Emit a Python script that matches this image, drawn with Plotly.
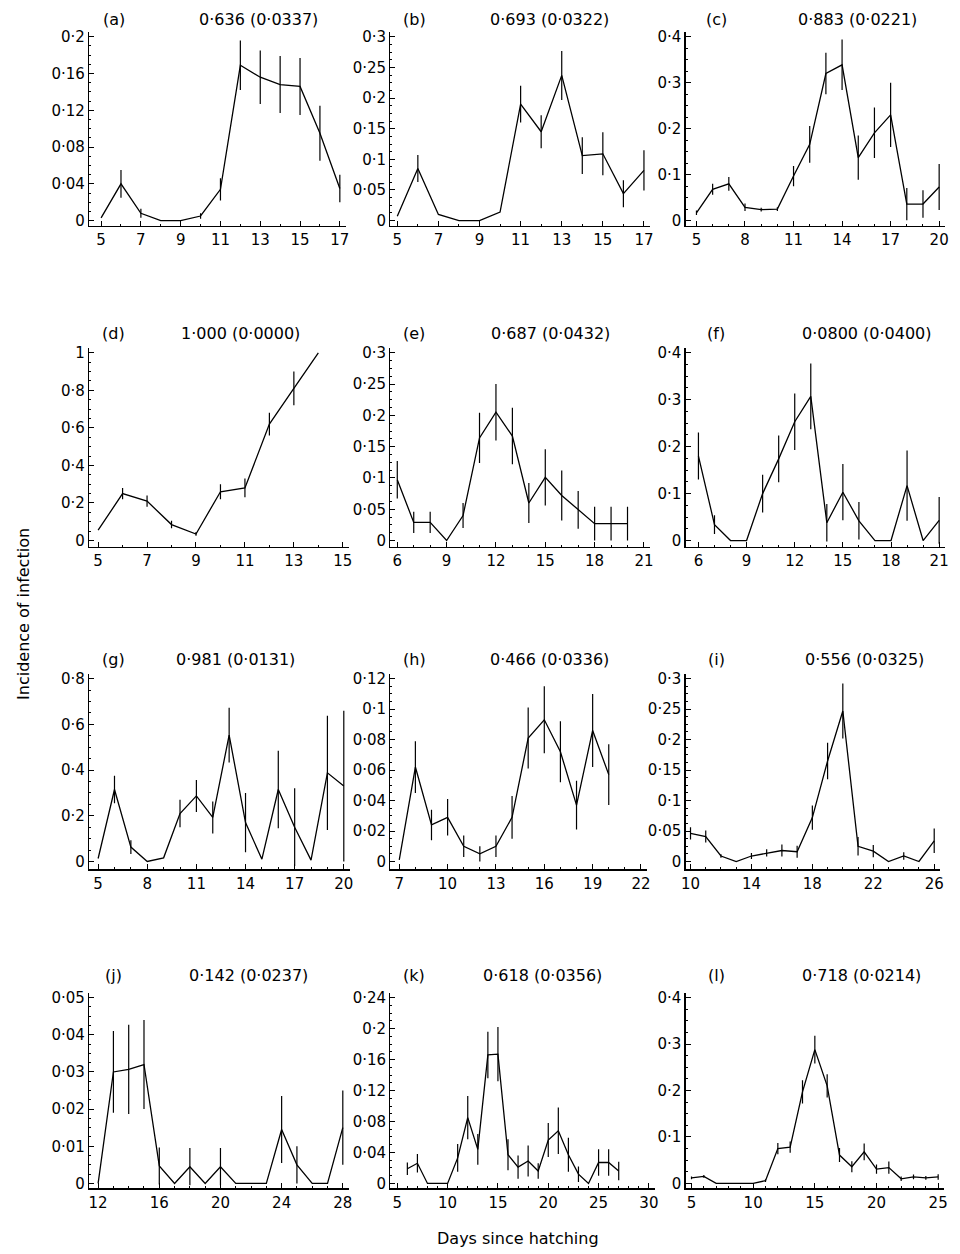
import plotly.graph_objects as go

# ---------------- data ----------------
days_a = [5, 6, 7, 8, 9, 10, 11, 12, 13, 14, 15, 16, 17]
inc_a = [0.003, 0.040, 0.008, 0.0, 0.0, 0.005, 0.034, 0.169, 0.156, 0.148, 0.146, 0.095, 0.035]
err_a = [0.0, 0.015, 0.005, 0.0, 0.0, 0.003, 0.012, 0.027, 0.029, 0.031, 0.031, 0.030, 0.015]

days_b = [5, 6, 7, 8, 9, 10, 11, 12, 13, 14, 15, 16, 17]
inc_b = [0.007, 0.085, 0.010, 0.0, 0.0, 0.014, 0.190, 0.145, 0.237, 0.106, 0.109, 0.044, 0.082]
err_b = [0.0, 0.022, 0.0, 0.0, 0.0, 0.0, 0.030, 0.027, 0.040, 0.030, 0.035, 0.022, 0.033]

days_c = [5, 6, 7, 8, 9, 10, 11, 12, 13, 14, 15, 16, 17, 18, 19, 20]
inc_c = [0.017, 0.068, 0.080, 0.029, 0.024, 0.025, 0.097, 0.166, 0.320, 0.339, 0.137, 0.191, 0.230, 0.036, 0.036, 0.073]
err_c = [0.005, 0.012, 0.015, 0.008, 0.004, 0.004, 0.022, 0.040, 0.045, 0.055, 0.048, 0.055, 0.070, 0.035, 0.030, 0.050]

days_d = [5, 6, 7, 8, 9, 10, 11, 12, 13, 14]
inc_d = [0.055, 0.25, 0.21, 0.085, 0.035, 0.26, 0.28, 0.62, 0.81, 1.0]
err_d = [0.0, 0.03, 0.03, 0.02, 0.01, 0.04, 0.05, 0.06, 0.09, 0.0]

days_e = [6, 7, 8, 9, 10, 11, 12, 13, 14, 15, 16, 17, 18, 19, 20]
inc_e = [0.097, 0.029, 0.029, 0.0, 0.040, 0.164, 0.205, 0.167, 0.060, 0.101, 0.072, 0.049, 0.027, 0.027, 0.027]
err_e = [0.030, 0.017, 0.017, 0.0, 0.020, 0.040, 0.045, 0.045, 0.032, 0.045, 0.040, 0.030, 0.027, 0.027, 0.027]

days_f = [6, 7, 8, 9, 10, 11, 12, 13, 14, 15, 16, 17, 18, 19, 20, 21]
inc_f = [0.180, 0.034, 0.0, 0.0, 0.100, 0.174, 0.253, 0.307, 0.038, 0.103, 0.042, 0.0, 0.0, 0.117, 0.0, 0.043]
err_f = [0.050, 0.020, 0.0, 0.0, 0.040, 0.050, 0.060, 0.070, 0.040, 0.060, 0.040, 0.0, 0.0, 0.075, 0.0, 0.050]

days_g = [5, 6, 7, 8, 9, 10, 11, 12, 13, 14, 15, 16, 17, 18, 19, 20]
inc_g = [0.013, 0.315, 0.063, 0.0, 0.016, 0.210, 0.287, 0.193, 0.553, 0.170, 0.010, 0.315, 0.150, 0.006, 0.388, 0.330]
err_g = [0.0, 0.060, 0.030, 0.0, 0.0, 0.060, 0.070, 0.070, 0.120, 0.130, 0.0, 0.170, 0.170, 0.0, 0.250, 0.330]

days_h = [7, 8, 9, 10, 11, 12, 13, 14, 15, 16, 17, 18, 19, 20]
inc_h = [0.001, 0.062, 0.024, 0.029, 0.010, 0.005, 0.010, 0.029, 0.081, 0.093, 0.072, 0.037, 0.086, 0.057]
err_h = [0.0, 0.017, 0.010, 0.012, 0.007, 0.005, 0.007, 0.014, 0.020, 0.022, 0.020, 0.016, 0.024, 0.020]

days_i = [10, 11, 12, 13, 14, 15, 16, 17, 18, 19, 20, 21, 22, 23, 24, 25, 26]
inc_i = [0.046, 0.041, 0.009, 0.0, 0.009, 0.014, 0.018, 0.016, 0.072, 0.165, 0.247, 0.025, 0.017, 0.0, 0.009, 0.0, 0.034]
err_i = [0.010, 0.010, 0.003, 0.0, 0.005, 0.006, 0.010, 0.010, 0.020, 0.030, 0.045, 0.015, 0.010, 0.0, 0.006, 0.0, 0.020]

days_j = [12, 13, 14, 15, 16, 17, 18, 19, 20, 21, 22, 23, 24, 25, 26, 27, 28]
inc_j = [0.0, 0.030, 0.0307, 0.032, 0.0047, 0.0, 0.0045, 0.0, 0.0045, 0.0, 0.0, 0.0, 0.0145, 0.005, 0.0, 0.0, 0.015]
err_j = [0.0, 0.011, 0.012, 0.012, 0.005, 0.0, 0.005, 0.0, 0.005, 0.0, 0.0, 0.0, 0.009, 0.005, 0.0, 0.0, 0.010]

days_k = [6, 7, 8, 9, 10, 11, 12, 13, 14, 15, 16, 17, 18, 19, 20, 21, 22, 23, 24, 25, 26, 27]
inc_k = [0.019, 0.026, 0.0, 0.0, 0.0, 0.033, 0.085, 0.044, 0.166, 0.167, 0.037, 0.021, 0.029, 0.016,
         0.056, 0.068, 0.037, 0.012, 0.0, 0.027, 0.027, 0.016]
err_k = [0.008, 0.012, 0.0, 0.0, 0.0, 0.018, 0.028, 0.020, 0.030, 0.035, 0.020, 0.015, 0.020, 0.010,
         0.022, 0.030, 0.022, 0.010, 0.0, 0.017, 0.017, 0.012]

days_l = [5, 6, 7, 8, 9, 10, 11, 12, 13, 14, 15, 16, 17, 18, 19, 20, 21, 22, 23, 24, 25]
inc_l = [0.012, 0.015, 0.0, 0.0, 0.0, 0.0, 0.006, 0.075, 0.078, 0.197, 0.288, 0.210, 0.061, 0.036,
         0.068, 0.031, 0.034, 0.010, 0.014, 0.012, 0.014]
err_l = [0.003, 0.003, 0.0, 0.0, 0.0, 0.0, 0.003, 0.012, 0.012, 0.025, 0.030, 0.025, 0.015, 0.012,
         0.018, 0.010, 0.013, 0.005, 0.005, 0.004, 0.006]

panel_letters = ["(a)", "(b)", "(c)", "(d)", "(e)", "(f)", "(g)", "(h)", "(i)", "(j)", "(k)", "(l)"]
panel_stats = ["0·636 (0·0337)", "0·693 (0·0322)", "0·883 (0·0221)",
               "1·000 (0·0000)", "0·687 (0·0432)", "0·0800 (0·0400)",
               "0·981 (0·0131)", "0·466 (0·0336)", "0·556 (0·0325)",
               "0·142 (0·0237)", "0·618 (0·0356)", "0·718 (0·0214)"]

xticks_a = [5, 7, 9, 11, 13, 15, 17]
xticks_b = [5, 7, 9, 11, 13, 15, 17]
xticks_c = [5, 8, 11, 14, 17, 20]
xticks_d = [5, 7, 9, 11, 13, 15]
xticks_e = [6, 9, 12, 15, 18, 21]
xticks_f = [6, 9, 12, 15, 18, 21]
xticks_g = [5, 8, 11, 14, 17, 20]
xticks_h = [7, 10, 13, 16, 19, 22]
xticks_i = [10, 14, 18, 22, 26]
xticks_j = [12, 16, 20, 24, 28]
xticks_k = [5, 10, 15, 20, 25, 30]
xticks_l = [5, 10, 15, 20, 25]

yticks_a = [0, 0.04, 0.08, 0.12, 0.16, 0.2]
ylabels_a = ["0", "0·04", "0·08", "0·12", "0·16", "0·2"]
yticks_b = [0, 0.05, 0.1, 0.15, 0.2, 0.25, 0.3]
ylabels_b = ["0", "0·05", "0·1", "0·15", "0·2", "0·25", "0·3"]
yticks_c = [0, 0.1, 0.2, 0.3, 0.4]
ylabels_c = ["0", "0·1", "0·2", "0·3", "0·4"]
yticks_d = [0, 0.2, 0.4, 0.6, 0.8, 1.0]
ylabels_d = ["0", "0·2", "0·4", "0·6", "0·8", "1"]
yticks_e = [0, 0.05, 0.1, 0.15, 0.2, 0.25, 0.3]
ylabels_e = ["0", "0·05", "0·1", "0·15", "0·2", "0·25", "0·3"]
yticks_f = [0, 0.1, 0.2, 0.3, 0.4]
ylabels_f = ["0", "0·1", "0·2", "0·3", "0·4"]
yticks_g = [0, 0.2, 0.4, 0.6, 0.8]
ylabels_g = ["0", "0·2", "0·4", "0·6", "0·8"]
yticks_h = [0, 0.02, 0.04, 0.06, 0.08, 0.1, 0.12]
ylabels_h = ["0", "0·02", "0·04", "0·06", "0·08", "0·1", "0·12"]
yticks_i = [0, 0.05, 0.1, 0.15, 0.2, 0.25, 0.3]
ylabels_i = ["0", "0·05", "0·1", "0·15", "0·2", "0·25", "0·3"]
yticks_j = [0, 0.01, 0.02, 0.03, 0.04, 0.05]
ylabels_j = ["0", "0·01", "0·02", "0·03", "0·04", "0·05"]
yticks_k = [0, 0.04, 0.08, 0.12, 0.16, 0.2, 0.24]
ylabels_k = ["0", "0·04", "0·08", "0·12", "0·16", "0·2", "0·24"]
yticks_l = [0, 0.1, 0.2, 0.3, 0.4]
ylabels_l = ["0", "0·1", "0·2", "0·3", "0·4"]

x_title = "Days since hatching"
y_title = "Incidence of infection"

# ---------------- layout (pixels) ----------------
W, H = 960, 1254
FONT = "DejaVu Sans"
FS = 15
TFS = 16

series = [
    (days_a, inc_a, err_a, xticks_a, yticks_a, ylabels_a),
    (days_b, inc_b, err_b, xticks_b, yticks_b, ylabels_b),
    (days_c, inc_c, err_c, xticks_c, yticks_c, ylabels_c),
    (days_d, inc_d, err_d, xticks_d, yticks_d, ylabels_d),
    (days_e, inc_e, err_e, xticks_e, yticks_e, ylabels_e),
    (days_f, inc_f, err_f, xticks_f, yticks_f, ylabels_f),
    (days_g, inc_g, err_g, xticks_g, yticks_g, ylabels_g),
    (days_h, inc_h, err_h, xticks_h, yticks_h, ylabels_h),
    (days_i, inc_i, err_i, xticks_i, yticks_i, ylabels_i),
    (days_j, inc_j, err_j, xticks_j, yticks_j, ylabels_j),
    (days_k, inc_k, err_k, xticks_k, yticks_k, ylabels_k),
    (days_l, inc_l, err_l, xticks_l, yticks_l, ylabels_l),
]

col_axis_px = [85, 389, 687]
first_tick_px = [97, 396, 698, 94, 396, 700, 94, 398, 692, 94, 396, 693]
last_tick_px = [338, 645, 943, 341, 645, 943, 342, 642, 938, 341, 650, 942]
row_px = [(223, 218, 33), (546, 540, 351), (871, 863, 679), (1192, 1187, 1000)]
title_y_px = [16, 332, 660, 978]
letter_x_px = [110, 413, 718]
stat_x_px = [[256, 550, 861], [238, 551, 870], [233, 550, 868], [246, 543, 865]]

fig = go.Figure()
layout = dict(
    width=W, height=H, autosize=False,
    margin=dict(l=0, r=0, t=0, b=0),
    paper_bgcolor="white", plot_bgcolor="white",
    showlegend=False,
    font=dict(family=FONT, size=FS, color="black"),
)
annotations = []

for idx, (xs, ys, es, xt, yt, yl) in enumerate(series):
    r, c = divmod(idx, 3)
    n = idx + 1
    xa = "x" if n == 1 else f"x{n}"
    ya = "y" if n == 1 else f"y{n}"
    fig.add_trace(go.Scatter(
        x=xs, y=ys, mode="lines",
        line=dict(color="black", width=1.3),
        error_y=dict(type="data", array=es, visible=True, color="black",
                     thickness=1.2, width=0),
        xaxis=xa, yaxis=ya, hoverinfo="skip",
    ))
    ax_px = col_axis_px[c]
    right_px = last_tick_px[idx] + 6
    t0, t1 = xt[0], xt[-1]
    ppd = (last_tick_px[idx] - first_tick_px[idx]) / (t1 - t0)
    x0 = t0 - (first_tick_px[idx] - ax_px) / ppd
    x1 = t1 + (right_px - last_tick_px[idx]) / ppd
    axis_px, zero_px, top_px = row_px[r]
    top_line_px = top_px - 5
    T = yt[-1]
    ppu = (zero_px - top_px) / T
    y0 = -(axis_px - zero_px) / ppu
    y1 = T + (top_px - top_line_px) / ppu
    xd = [ax_px / W, right_px / W]
    yd = [1 - axis_px / H, 1 - top_line_px / H]
    key_x = "xaxis" if n == 1 else f"xaxis{n}"
    key_y = "yaxis" if n == 1 else f"yaxis{n}"
    layout[key_x] = dict(
        domain=xd, range=[x0, x1], anchor=ya,
        showline=True, linecolor="black", linewidth=1.3,
        showgrid=False, zeroline=False,
        tickmode="array", tickvals=xt, ticktext=[str(v) for v in xt],
        ticks="inside", ticklen=5, tickcolor="black", tickwidth=1,
        tickfont=dict(family=FONT, size=FS, color="black"),
        ticklabeloverflow="allow",
        minor=dict(ticks="inside", ticklen=2, dtick=1, tickcolor="black", showgrid=False),
    )
    layout[key_y] = dict(
        domain=yd, range=[y0, y1], anchor=xa,
        showline=True, linecolor="black", linewidth=1.3,
        showgrid=False, zeroline=False,
        tickmode="array", tickvals=yt, ticktext=yl,
        ticks="inside", ticklen=5, tickcolor="black", tickwidth=1,
        tickfont=dict(family=FONT, size=FS, color="black"),
        ticklabeloverflow="allow",
        minor=dict(ticks="inside", ticklen=2, dtick=(yt[1] - yt[0]) / 4,
                   tickcolor="black", showgrid=False),
    )
    annotations.append(dict(
        text=panel_letters[idx], xref="paper", yref="paper",
        x=letter_x_px[c] / W, y=1 - title_y_px[r] / H,
        xanchor="center", yanchor="middle", showarrow=False,
        font=dict(family=FONT, size=TFS, color="black"),
    ))
    annotations.append(dict(
        text=panel_stats[idx], xref="paper", yref="paper",
        x=stat_x_px[r][c] / W, y=1 - title_y_px[r] / H,
        xanchor="center", yanchor="middle", showarrow=False,
        font=dict(family=FONT, size=TFS, color="black"),
    ))

annotations.append(dict(
    text=x_title, xref="paper", yref="paper", x=518 / W, y=1 - 1242 / H,
    xanchor="center", yanchor="middle", showarrow=False,
    font=dict(family=FONT, size=TFS, color="black"),
))
annotations.append(dict(
    text=y_title, xref="paper", yref="paper", x=18 / W, y=1 - 614 / H,
    xanchor="center", yanchor="middle", showarrow=False, textangle=-90,
    font=dict(family=FONT, size=TFS, color="black"),
))
layout["annotations"] = annotations
fig.update_layout(**layout)
fig.write_html(
    "out.html",
    config={"displayModeBar": False, "staticPlot": True},
    post_script="document.body.style.margin='0';document.body.style.overflow='hidden';",
)
